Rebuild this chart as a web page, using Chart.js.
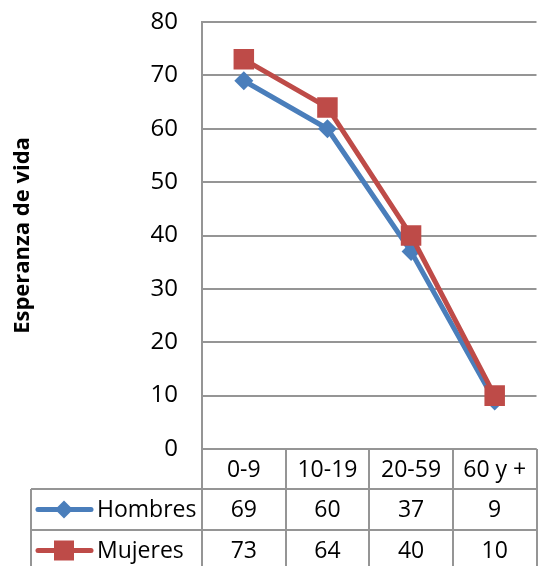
<!DOCTYPE html>
<html>
<head>
<meta charset="utf-8">
<script src="https://cdn.jsdelivr.net/npm/chart.js@4.4.1/dist/chart.umd.min.js"></script>
<style>
  html, body { margin: 0; padding: 0; background: #fff; overflow: hidden; }
  #wrap { width: 551px; height: 566px; }
</style>
</head>
<body>
<div id="wrap"><canvas id="c" width="551" height="566"></canvas></div>
<script>
const categories = ['0-9', '10-19', '20-59', '60 y +'];
const hombres = [69, 60, 37, 9];
const mujeres = [73, 64, 40, 10];
const yTicks = [0, 10, 20, 30, 40, 50, 60, 70, 80];

const FONT = "'Open Sans', 'Noto Sans', sans-serif";
const BLUE = '#4A7EBB';
const RED = '#BE4B48';
const GRID = '#959595';

// Data table under the plot: header row with categories, then one row per series
const dataTable = {
  id: 'dataTable',
  afterDraw(chart) {
    const { ctx, chartArea, scales } = chart;
    const x = scales.x;
    const n = categories.length;
    const colW = (chartArea.right - chartArea.left) / n;
    const top = chartArea.bottom;
    const rows = [top, top + 40, top + 81, top + 122];
    const legendLeft = 31;

    ctx.save();
    ctx.strokeStyle = GRID;
    ctx.lineWidth = 2;
    ctx.beginPath();
    // column separators
    for (let i = 0; i <= n; i++) {
      const cx = Math.round(chartArea.left + i * colW);
      ctx.moveTo(cx, top);
      ctx.lineTo(cx, rows[3]);
    }
    // row separators
    ctx.moveTo(chartArea.left, rows[0]);
    ctx.lineTo(chartArea.right, rows[0]);
    for (let r = 1; r <= 3; r++) {
      ctx.moveTo(legendLeft, rows[r]);
      ctx.lineTo(chartArea.right, rows[r]);
    }
    ctx.moveTo(legendLeft, rows[1]);
    ctx.lineTo(legendLeft, rows[3]);
    ctx.stroke();

    ctx.fillStyle = '#000';
    ctx.font = '23px ' + FONT;
    ctx.textAlign = 'center';
    ctx.textBaseline = 'middle';
    categories.forEach((c, i) => {
      ctx.fillText(c, x.getPixelForValue(i), (rows[0] + rows[1]) / 2 + 1);
    });

    chart.data.datasets.forEach((ds, r) => {
      const cy = (rows[r + 1] + rows[r + 2]) / 2;
      ctx.fillStyle = '#000';
      ctx.textAlign = 'center';
      ds.data.forEach((v, i) => {
        ctx.fillText(String(v), x.getPixelForValue(i), cy + 1);
      });
      // legend key
      ctx.strokeStyle = ds.borderColor;
      ctx.lineWidth = 5;
      ctx.lineCap = 'round';
      ctx.beginPath();
      ctx.moveTo(38, cy);
      ctx.lineTo(91, cy);
      ctx.stroke();
      ctx.fillStyle = ds.pointBackgroundColor;
      ctx.beginPath();
      if (ds.pointStyle === 'rectRot') {
        const s = 9;
        ctx.moveTo(64, cy - s);
        ctx.lineTo(64 + s, cy);
        ctx.lineTo(64, cy + s);
        ctx.lineTo(64 - s, cy);
        ctx.closePath();
      } else {
        ctx.rect(54, cy - 10, 20, 20);
      }
      ctx.fill();
      ctx.fillStyle = '#000';
      ctx.textAlign = 'left';
      ctx.fillText(ds.label, 97, cy + 1);
    });
    ctx.restore();
  }
};

new Chart(document.getElementById('c'), {
  type: 'line',
  data: {
    labels: categories,
    datasets: [
      {
        label: 'Hombres',
        data: hombres,
        order: 1,
        borderColor: BLUE,
        backgroundColor: BLUE,
        pointBackgroundColor: BLUE,
        pointBorderColor: BLUE,
        borderWidth: 5,
        pointStyle: 'rectRot',
        pointRadius: 9.5,
        pointBorderWidth: 0,
        tension: 0
      },
      {
        label: 'Mujeres',
        data: mujeres,
        order: 0,
        borderColor: RED,
        backgroundColor: RED,
        pointBackgroundColor: RED,
        pointBorderColor: RED,
        borderWidth: 5,
        pointStyle: 'rect',
        pointRadius: 14.5,
        pointBorderWidth: 0,
        tension: 0
      }
    ]
  },
  options: {
    responsive: false,
    animation: false,
    layout: { padding: { top: 22, bottom: 117, left: 0, right: 0 } },
    plugins: {
      legend: { display: false },
      tooltip: { enabled: false }
    },
    scales: {
      x: {
        type: 'category',
        offset: true,
        display: false
      },
      y: {
        min: 0,
        max: 80,
        afterBuildTicks(scale) {
          scale.ticks = yTicks.map(v => ({ value: v }));
        },
        afterFit(scale) {
          scale.width = 202;
          scale.paddingTop = 0;
          scale.paddingBottom = 0;
        },
        ticks: {
          color: '#000',
          font: { family: FONT, size: 24 },
          padding: 24
        },
        grid: {
          color: GRID,
          lineWidth: 2,
          drawTicks: false
        },
        border: { color: GRID, width: 2 },
        title: {
          display: true,
          text: 'Esperanza de vida',
          color: '#000',
          font: { family: FONT, size: 22, weight: 'bold' },
          padding: { top: 10, bottom: 0 }
        }
      }
    }
  },
  plugins: [dataTable]
});
</script>
</body>
</html>
